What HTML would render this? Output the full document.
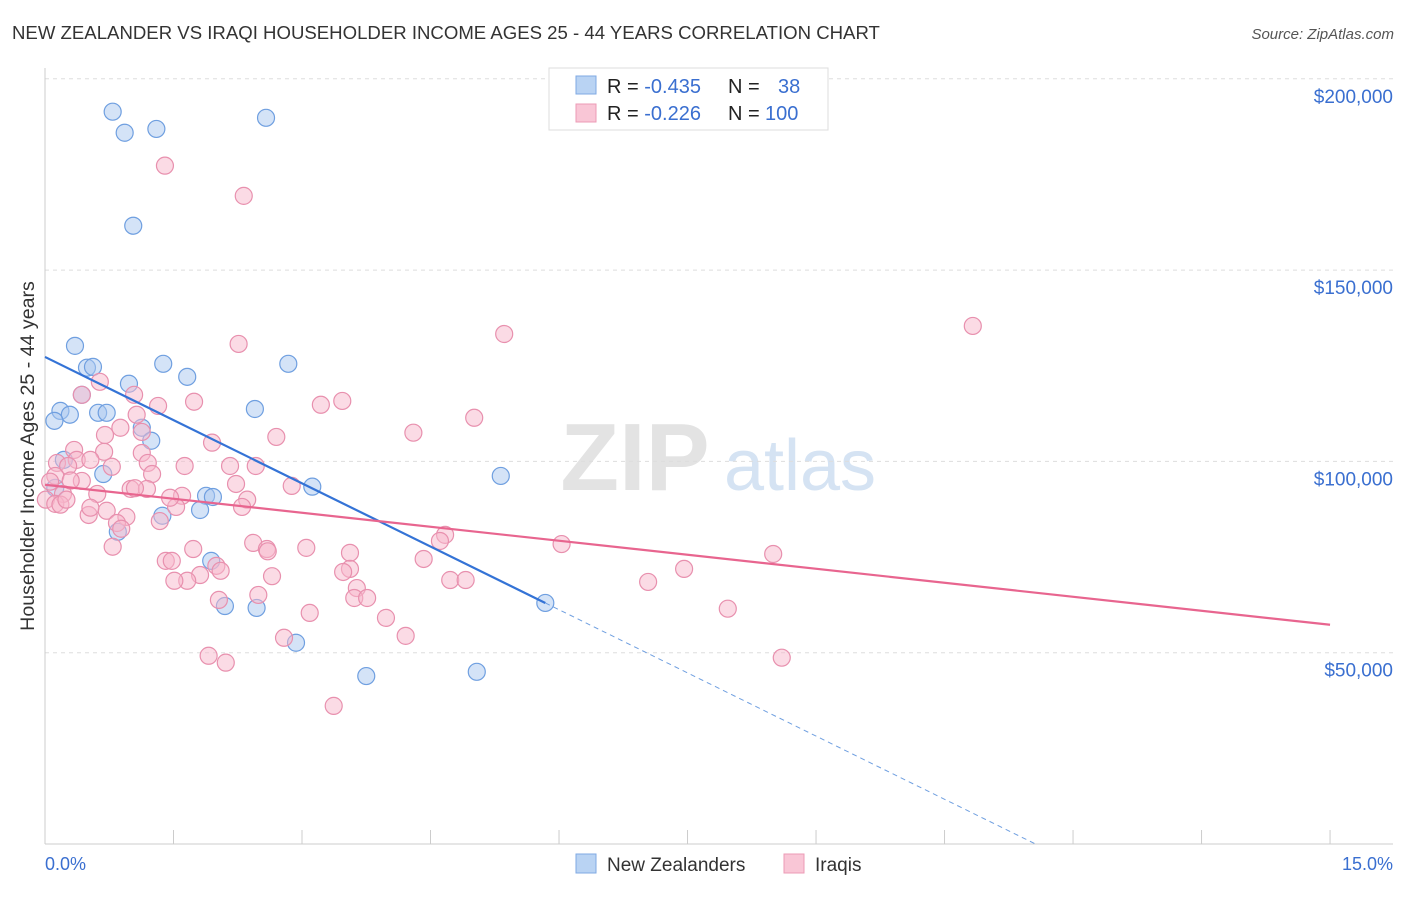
<!DOCTYPE html>
<html><head><meta charset="utf-8"><style>
body{margin:0;background:#fff;font-family:"Liberation Sans",sans-serif;}
svg text{font-family:"Liberation Sans",sans-serif;}
</style></head><body>
<svg id="chart" width="1406" height="892" xmlns="http://www.w3.org/2000/svg">
<text x="12" y="39" font-size="18.6" fill="#333">NEW ZEALANDER VS IRAQI HOUSEHOLDER INCOME AGES 25 - 44 YEARS CORRELATION CHART</text>
<text x="1394" y="39" font-size="15" fill="#555" text-anchor="end" font-style="italic">Source: ZipAtlas.com</text>
<g><text x="635" y="490" font-size="96" fill="#e3e3e3" text-anchor="middle" font-family="Liberation Serif" font-weight="bold">ZIP</text><text x="800" y="490" font-size="72" fill="#d5e3f3" text-anchor="middle">atlas</text></g>
<g id="grid"></g>
<g id="axes"></g>
<g id="blue"></g>
<g id="pink"></g>
<g id="trends"></g>
<g>
<rect x="549" y="68" width="279" height="62" fill="#fff" stroke="#ddd"/>
<rect x="576" y="76" width="20" height="18" fill="#b9d3f3" stroke="#7fa9e3"/>
<text x="607" y="93" font-size="20" fill="#222">R = <tspan fill="#3a6fd0">-0.435</tspan><tspan x="728">N = </tspan><tspan x="778" fill="#3a6fd0">38</tspan></text>
<rect x="576" y="104" width="20" height="18" fill="#f9c6d6" stroke="#ec9bb6"/>
<text x="607" y="120" font-size="20" fill="#222">R = <tspan fill="#3a6fd0">-0.226</tspan><tspan x="728">N = </tspan><tspan x="765" fill="#3a6fd0">100</tspan></text>
</g>
<g>
<rect x="576" y="854" width="20" height="19" fill="#b9d3f3" stroke="#7fa9e3"/>
<text x="607" y="871" font-size="19" fill="#333">New Zealanders</text>
<rect x="784" y="854" width="20" height="19" fill="#f9c6d6" stroke="#ec9bb6"/>
<text x="815" y="871" font-size="19" fill="#333">Iraqis</text>
</g>
<text x="45" y="870" font-size="18" fill="#3a6fd0">0.0%</text>
<text x="1393" y="870" font-size="18" fill="#3a6fd0" text-anchor="end">15.0%</text>
<text transform="translate(34,456) rotate(-90)" font-size="19.6" fill="#333" text-anchor="middle">Householder Income Ages 25 - 44 years</text>
</svg>
<script>
const yTicks=[50000,100000,150000,200000];
const yTickLabels=["$50,000","$100,000","$150,000","$200,000"];
const xTicks=[0,1.5,3,4.5,6,7.5,9,10.5,12,13.5,15];
const blueX=[0.79,0.93,1.30,2.58,1.03,0.35,0.49,0.56,0.98,1.38,1.66,2.84,0.43,0.18,0.29,0.62,0.72,0.11,1.13,1.24,2.45,0.22,0.68,0.12,3.12,5.32,1.88,1.96,1.81,1.37,0.85,1.94,2.10,2.47,2.93,3.75,5.04,5.84];
const blueY=[191.4,185.9,186.9,189.8,161.6,130.2,124.5,124.7,120.3,125.5,122.1,125.5,117.4,113.2,112.2,112.7,112.7,110.6,108.8,105.4,113.7,100.4,96.7,93.1,93.4,96.2,91.0,90.7,87.3,85.8,81.6,74.0,62.2,61.7,52.6,43.9,45.0,63.0];
const pinkX=[1.40,2.32,2.26,5.36,10.83,0.64,1.04,0.43,1.74,1.32,1.07,3.47,3.22,5.01,0.88,1.13,2.70,4.30,1.95,0.34,0.69,1.13,0.37,0.53,0.14,1.20,0.27,0.78,1.63,2.16,2.46,1.25,0.43,0.12,0.06,2.23,2.88,1.00,1.19,0.61,1.60,0.21,0.01,0.12,0.18,0.72,1.53,2.36,2.30,0.51,0.95,1.34,0.84,0.89,4.67,4.61,2.43,2.59,3.05,1.73,3.56,0.79,8.50,6.03,1.41,1.48,4.42,2.00,2.05,3.56,3.48,7.46,1.81,2.65,1.66,1.51,4.73,4.91,7.04,3.64,2.49,3.61,3.76,2.03,3.09,3.98,7.97,4.21,2.79,1.91,2.11,8.60,3.37,0.25,0.53,1.46,0.70,0.30,1.05,2.60];
const pinkY=[177.3,169.4,130.7,133.3,135.4,120.8,117.4,117.4,115.6,114.5,112.2,115.8,114.8,111.4,108.8,107.7,106.4,107.5,104.9,103.0,102.5,102.2,100.4,100.4,99.6,99.6,98.8,98.6,98.8,98.8,98.8,96.7,94.9,96.2,94.7,94.1,93.6,92.8,92.8,91.5,91.0,91.5,90.0,88.9,88.7,87.1,88.1,90.0,88.1,86.0,85.5,84.4,83.9,82.4,80.8,79.2,78.7,77.1,77.4,77.1,76.1,77.7,75.8,78.4,74.0,74.0,74.5,72.7,71.4,71.9,71.1,71.9,70.3,70.0,68.8,68.8,69.0,69.0,68.5,66.9,65.1,64.3,64.3,63.8,60.4,59.1,61.5,54.4,53.9,49.2,47.4,48.7,36.1,90.0,87.9,90.5,106.9,95.0,93.0,76.5];
const blueTrend=[127.3,63.0];
const pinkTrend=[93.9,57.3];
const NS="http://www.w3.org/2000/svg";
function X(p){return 45+p*85.67;}
function Y(v){return 844-v/50000*191.3;}
function mk(t,a,p){const e=document.createElementNS(NS,t);for(const k in a)e.setAttribute(k,a[k]);p.appendChild(e);return e;}
const grid=document.getElementById('grid'),axes=document.getElementById('axes');
yTicks.forEach((v,i)=>{
 const l=mk('line',{x1:45,x2:1393,y1:Y(v),y2:Y(v),stroke:'#ddd','stroke-dasharray':'4,4'},grid);
 
 
 const t=mk('text',{x:1393,y:Y(v)+24,'font-size':19,fill:'#3a6fd0','text-anchor':'end'},axes);
 t.textContent=yTickLabels[i];
 
 
});
mk('line',{x1:45,x2:45,y1:68,y2:844,stroke:'#ccc'},axes);
mk('line',{x1:45,x2:1393,y1:844,y2:844,stroke:'#ccc'},axes);
xTicks.forEach(p=>{const t=mk('line',{x1:X(p),x2:X(p),y1:830,y2:844,stroke:'#ccc'},axes);
 
 });
function pts(xs,ys,g,f,s){xs.forEach((x,i)=>{const c=mk('circle',{cx:X(x),cy:Y(ys[i]*1000),r:8.5,fill:f,'fill-opacity':0.5,stroke:s,'stroke-width':1.2},g);
 
 });}
pts(blueX,blueY,document.getElementById('blue'),'#a9c8f0','#6f9fe0');
pts(pinkX,pinkY,document.getElementById('pink'),'#f7b8cc','#e890ae');
const tr=document.getElementById('trends');
const bx1=5.84, slope=(blueTrend[1]-blueTrend[0])/bx1;
const l1=mk('line',{x1:X(0),y1:Y(blueTrend[0]*1000),x2:X(bx1),y2:Y(blueTrend[1]*1000),stroke:'#3473d6','stroke-width':2.2},tr);


const xEnd=bx1-(blueTrend[1])/slope;
const l2=mk('line',{x1:X(bx1),y1:Y(blueTrend[1]*1000),x2:X(xEnd),y2:Y(0),stroke:'#6f9fe0','stroke-width':1,'stroke-dasharray':'5,4'},tr);


const l3=mk('line',{x1:X(0),y1:Y(pinkTrend[0]*1000),x2:X(15),y2:Y(pinkTrend[1]*1000),stroke:'#e8658f','stroke-width':2.2},tr);


</script>
</body></html>
